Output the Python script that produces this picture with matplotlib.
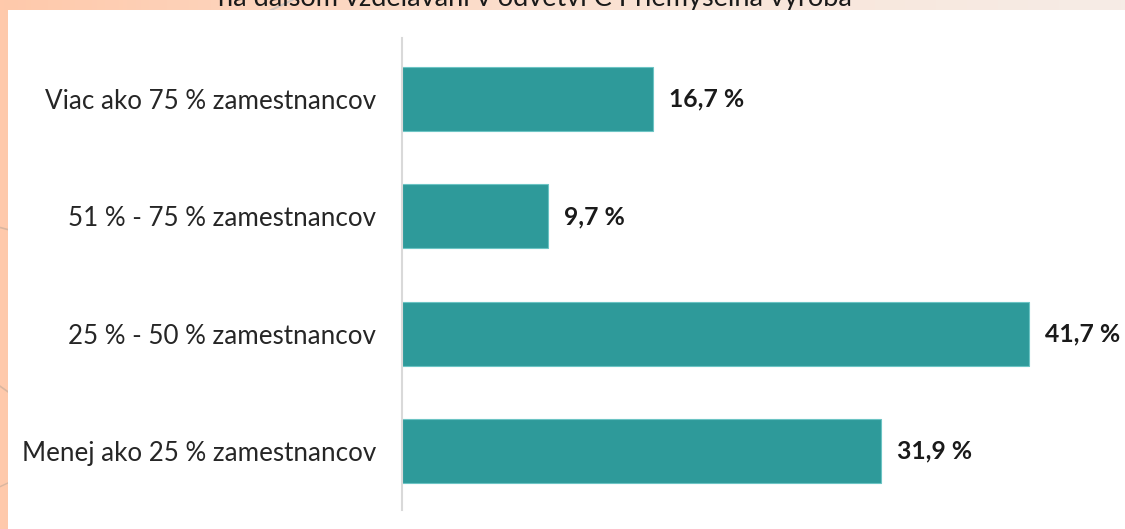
import numpy as np
import matplotlib
matplotlib.use("Agg")
import matplotlib.pyplot as plt
from matplotlib.colors import LinearSegmentedColormap

categories = [
    "Menej ako 25 % zamestnancov",
    "25 % - 50 % zamestnancov",
    "51 % - 75 % zamestnancov",
    "Viac ako 75 % zamestnancov",
]
values = [31.9, 41.7, 9.7, 16.7]
value_labels = ["31,9 %", "41,7 %", "9,7 %", "16,7 %"]
title_tail = "na ďalšom vzdelávaní v odvetví C Priemyselná výroba"

W, H = 1125, 529
fig = plt.figure(figsize=(W / 100, H / 100), dpi=100)

# peach page background with a soft left-to-right fade
bg = fig.add_axes([0, 0, 1, 1], zorder=0)
grad = np.linspace(0, 1, 256)[None, :]
cmap = LinearSegmentedColormap.from_list("peach", ["#ffc9ab", "#fcd9c4", "#f9e6da", "#f6ece6"])
bg.imshow(grad, aspect="auto", cmap=cmap, extent=[0, 1, 0, 1])
bg.plot([0, 0.035], [0.57, 0.55], color="#d9b6a0", lw=1.2)
bg.plot([0, 0.02], [0.27, 0.24], color="#d9b6a0", lw=1.2)
bg.plot([0, 0.015], [0.08, 0.095], color="#d9b6a0", lw=1.0)
bg.plot([0.20, 0.26], [0.94, 1.0], color="#cfc4bd", lw=1.5)
bg.set_xlim(0, 1)
bg.set_ylim(0, 1)
bg.axis("off")

# white chart panel
panel = fig.add_axes([8 / W, 0, 1 - 8 / W, 1 - 10 / H], zorder=1)
panel.set_facecolor("white")
panel.set_xticks([])
panel.set_yticks([])
for s in panel.spines.values():
    s.set_visible(False)

fig.text(535 / W, 1 - 6 / H, title_tail, ha="center", va="baseline",
         fontsize=19.5, family="Lato", color="#1a1a1a", zorder=0.5)

ax = fig.add_axes([402 / W, 19 / H, (W - 402) / W, (510 - 38) / H], zorder=2)
ax.patch.set_alpha(0)
y = np.arange(len(categories))
ax.barh(y, values, height=0.545, color="#2e9a9a", edgecolor="#6cc4c4", linewidth=0.8)
for yi, v, lab in zip(y, values, value_labels):
    ax.text(v + 1.05, yi, lab, va="center", ha="left", fontsize=17.8,
            family="Lato", fontweight="bold", color="#1a1a1a")

ax.set_xlim(0, (W - 402) / 15.03)
ax.set_ylim(-0.5, 3.52)
ax.set_yticks(y)
ax.set_yticklabels(categories, fontsize=18.7, family="Lato", color="#262626")
ax.tick_params(axis="y", length=0, pad=18.5)
ax.set_xticks([])
for s in ["top", "right", "bottom"]:
    ax.spines[s].set_visible(False)
ax.spines["left"].set_color("#d9d9d9")
ax.spines["left"].set_linewidth(1.5)

fig.savefig("out.png", dpi=100)
